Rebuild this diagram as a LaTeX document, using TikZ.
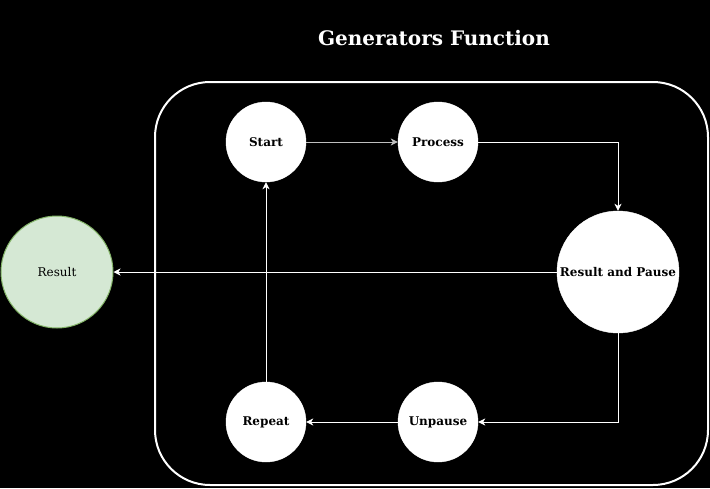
\documentclass[tikz,border=0pt]{standalone}
\usepackage{fontspec}
\setmainfont{DejaVu Serif}
\usetikzlibrary{arrows.meta}
\definecolor{resfill}{HTML}{D5E8D4}
\definecolor{resdraw}{HTML}{82B366}
\begin{document}
\begin{tikzpicture}[x=1pt,y=-1pt,
  stepnode/.style={circle,fill=white,draw=white,inner sep=0pt,font=\fontsize{12}{14}\selectfont\bfseries,text=black},
  conn/.style={draw=white,line width=1pt,-{Stealth[length=7pt,width=7pt,inset=2pt]}}]
\fill[black] (0,0) rectangle (710,488);
\useasboundingbox (0,0) rectangle (710,488);
\node[text=white,font=\fontsize{20}{24}\selectfont\bfseries] (title) at (434,38) {Generators Function};
\draw[white,line width=2pt,rounded corners=55pt] (155,82) rectangle (708,485);
\node[stepnode,minimum size=80pt] (start) at (266,142) {Start};
\node[stepnode,minimum size=80pt] (process) at (438,142) {Process};
\node[stepnode,minimum size=122pt] (rp) at (618,272) {Result and Pause};
\node[stepnode,minimum size=80pt] (unpause) at (438,422) {Unpause};
\node[stepnode,minimum size=80pt] (repeat) at (266,422) {Repeat};
\node[circle,fill=resfill,draw=resdraw,line width=1pt,minimum size=112pt,inner sep=0pt,font=\fontsize{12}{14}\selectfont,text=black] (result) at (57,272) {Result};
\draw[conn,draw=white!75!black] (start) -- (process);
\draw[conn] (process.east) -| (rp.north);
\draw[conn] (rp.south) |- (unpause.east);
\draw[conn] (unpause) -- (repeat);
\draw[conn] (repeat) -- (start);
\draw[conn] (rp) -- (result);
\end{tikzpicture}
\end{document}
